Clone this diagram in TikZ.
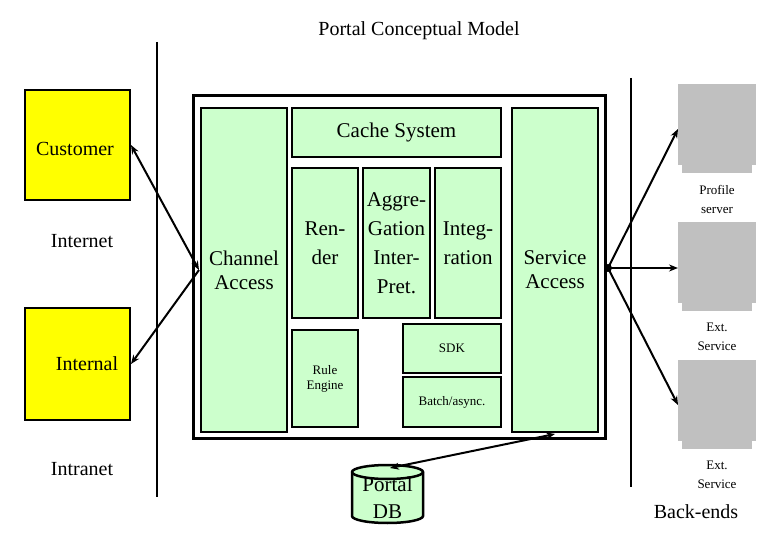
\documentclass[tikz,border=0pt]{standalone}
\usepackage{fontspec}
\setmainfont{Liberation Serif}
\newfontfamily\tms{Liberation Serif}
\usetikzlibrary{arrows.meta}
\definecolor{lgreen}{RGB}{204,255,204}
\definecolor{ygold}{RGB}{255,255,0}
\definecolor{srvgray}{RGB}{192,192,192}
\begin{document}
\begin{tikzpicture}[x=1pt,y=-1pt,
  box/.style={draw,line width=2.5pt,fill=lgreen,inner sep=0pt,align=center,font=\tms\fontsize{21}{24}\selectfont},
  sbox/.style={box,font=\tms\fontsize{13}{15}\selectfont},
  lbl/.style={font=\tms\fontsize{20}{22}\selectfont,align=center},
  slbl/.style={font=\tms\fontsize{13}{19}\selectfont,align=center},
  con/.style={line width=2pt,-{Stealth[length=9pt,width=7pt]}},
  dcon/.style={line width=2pt,{Stealth[length=9pt,width=7pt]}-{Stealth[length=9pt,width=7pt]}}]
\useasboundingbox (0,0) rectangle (780,540);
\fill[white] (0,0) rectangle (780,540);
\node[lbl] (title) at (419,31) {Portal Conceptual Model};
% separators
\draw[line width=2.5pt] (157,42) -- (157,497);
\draw[line width=2.5pt] (631,78) -- (631,487);
% clients
\node[draw,line width=2pt,fill=ygold,minimum width=105,minimum height=110] (cust) at (77.5,145) {};
\node[draw,line width=2pt,fill=ygold,minimum width=105,minimum height=112] (intl) at (77.5,364) {};
\node[lbl] (custl) at (75,149) {Customer};
\node[lbl] (inet) at (82,241) {Internet};
\node[lbl] (intll) at (87,364) {Internal};
\node[lbl] (itnet) at (82,469) {Intranet};
% portal frame
\draw[line width=3pt] (193,96) rectangle (605,438);
\node[box,minimum width=86,minimum height=324] (chan) at (244,270) {Channel\\Access};
\node[box,minimum width=86,minimum height=324] (serv) at (555,270) {Service\\Access};
\node[box,minimum width=209,minimum height=49] (cache) at (396.5,132.5) {Cache System};
\node[box,minimum width=66,minimum height=150] (rend) at (325,243) {};
\node[lbl,font=\tms\fontsize{21}{29}\selectfont] at (325,243) {Ren-\\der};
\node[box,minimum width=67,minimum height=150] (aggr) at (396.5,243) {};
\node[lbl,font=\tms\fontsize{21}{29}\selectfont] at (396.5,243) {Aggre-\\Gation\\Inter-\\Pret.};
\node[box,minimum width=66,minimum height=150] (integ) at (468,243) {};
\node[lbl,font=\tms\fontsize{21}{29}\selectfont] at (468,243) {Integ-\\ration};
\node[sbox,minimum width=66,minimum height=97] (rule) at (325,378.5) {Rule\\Engine};
\node[sbox,minimum width=98,minimum height=49] (sdk) at (452,348.5) {SDK};
\node[sbox,minimum width=98,minimum height=50] (batch) at (452,402) {Batch/async.};
% database
\filldraw[fill=lgreen,line width=2.5pt] (352,472) -- (352,516) arc[start angle=180,end angle=360,x radius=35.5,y radius=-7] -- (423,472) arc[start angle=0,end angle=180,x radius=35.5,y radius=-7] -- cycle;
\draw[line width=2.5pt] (352,472) arc[start angle=180,end angle=360,x radius=35.5,y radius=-7];
\node[lbl,font=\tms\fontsize{21}{27}\selectfont] (db) at (387.5,498) {Portal\\DB};
% back-end servers
\foreach \n/\y in {s1/84,s2/222,s3/360}{
  \fill[srvgray] (678,\y) rectangle (756,\y+81);
  \fill[srvgray] (682,\y+81) rectangle (752,\y+89);
  \coordinate (\n) at (678,\y+45);
}
\node[slbl] (p1) at (717,199) {Profile\\server};
\node[slbl] (p2) at (717,337) {Ext.\\Service};
\node[slbl] (p3) at (717,475) {Ext.\\Service};
\node[lbl] (bend) at (696,512) {Back-ends};
% connectors
\coordinate (cl) at (199,270);
\coordinate (sr) at (608,268);
\coordinate (dbt) at (390,468);
\draw[dcon] (cust.east) -- (cl);
\draw[con] (cl) -- (intl.east);
\fill (sr) circle (4pt);
\draw[con] (sr) -- (s1);
\draw[con] (sr) -- (678,268);
\draw[con] (sr) -- (678,405);
\coordinate (dbj) at (555,434);
\draw[dcon] (dbj) -- (dbt);
\end{tikzpicture}
\end{document}
